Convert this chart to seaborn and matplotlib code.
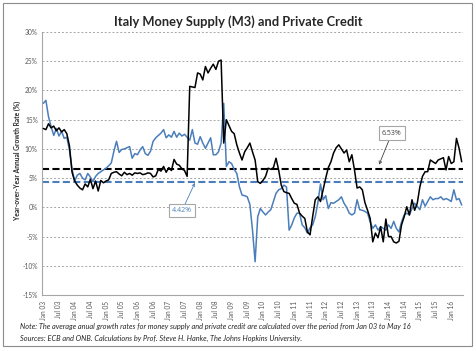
import numpy as np
import pandas as pd
import seaborn as sns
import matplotlib.pyplot as plt
from matplotlib.patches import Rectangle

# monthly growth rates, Jan 03 .. May 16
m3 = [13.5, 13.3, 14.3, 13.6, 13.9, 13.1, 13.6, 12.9, 13.3, 12.6,
      10.5, 6.0, 4.5, 3.8, 3.3, 3.0, 4.0, 3.5, 4.8, 3.2,
      4.5, 2.8, 4.6, 4.2, 4.5, 4.7, 5.8, 6.0, 6.1, 5.7,
      5.4, 6.0, 5.6, 5.8, 5.5, 5.9, 5.8, 5.9, 5.6, 5.7,
      5.9, 5.8, 5.2, 5.4, 6.5, 6.2, 7.0, 6.0, 6.8, 6.3,
      8.2, 7.4, 7.2, 6.6, 6.3, 5.3, 20.7, 20.6, 20.5, 23.0,
      22.8, 21.8, 24.1, 23.0, 23.8, 24.5, 23.6, 25.0, 25.2, 11.0,
      15.0, 14.0, 13.0, 12.6, 10.7, 9.3, 8.1, 9.5, 10.2, 11.0,
      9.5, 8.1, 4.4, 4.1, 4.6, 5.3, 6.7, 6.5, 6.8, 8.4,
      6.4, 3.8, 2.7, 2.5, 2.4, 1.5, 0.7, 0.5, -1.0, -1.5,
      -1.9, -4.2, -4.7, -1.6, 1.3, 1.8, 1.0, 3.0, 5.0, 6.8,
      7.8, 9.3, 10.2, 10.7, 10.0, 9.3, 9.8, 7.8, 9.0, 6.4,
      3.3, 3.5, 3.0, 0.8, -0.5, -1.9, -5.9, -4.4, -5.2, -3.3,
      -5.9, -2.0, -5.0, -5.0, -5.9, -6.1, -5.8, -3.0, -1.6, 0.1,
      -1.3, 1.3, -0.5, 0.7, 3.5, 5.3, 6.1, 6.1, 8.1, 7.8,
      7.5, 8.1, 8.3, 8.5, 6.4, 8.7, 7.5, 7.8, 11.8, 10.1,
      7.8]
credit = [17.8, 18.3, 15.5, 13.8, 12.3, 13.5, 12.2, 13.0, 11.8, 12.0,
          9.8, 6.5, 4.5, 5.5, 5.8, 5.0, 4.7, 5.8, 5.2, 4.4,
          5.3, 5.8, 6.1, 6.4, 6.7, 7.1, 7.6, 9.6, 11.3, 9.4,
          9.9, 10.0, 10.2, 10.4, 8.4, 9.2, 9.0, 9.8, 10.4, 9.2,
          8.9, 9.6, 11.3, 11.9, 12.3, 12.7, 13.3, 11.9, 12.4, 12.0,
          13.0, 12.0, 12.7, 12.2, 12.5, 12.0, 11.5, 13.3, 11.0, 10.8,
          12.1, 11.0, 10.1, 11.0, 11.9, 9.0, 9.0, 9.5, 11.0, 17.8,
          7.0, 7.8, 7.5, 6.5, 5.8, 3.5, 2.1, 2.0, 1.8, 0.5,
          -3.9, -9.3, -1.6, -0.2, -0.8, -1.3, -0.8, -0.4, 1.0, 2.4,
          3.0, 3.2, 3.8, 3.5, -3.9, -3.0, -1.8, -1.0, -1.0, -3.0,
          -3.5, -4.4, -3.5, -3.0, -1.6, 0.8, 4.0, 1.3, 2.0, -0.2,
          0.8, 0.7, 1.0, 1.3, 1.8, 0.7, 0.0, -1.0, -1.3, -1.0,
          1.3, -0.4, -0.5, -0.7, -1.0, -2.5, -3.6, -3.0, -3.9, -3.3,
          -3.6, -3.9, -3.0, -3.6, -2.4, -3.6, -4.2, -2.5, -1.3, -1.0,
          -1.3, -0.2, 0.7, 0.2, -0.4, 1.3, 0.2, 1.0, 1.8, 1.3,
          1.5, 1.5, 1.8, 1.3, 1.5, 1.3, 1.0, 3.0, 1.3, 1.5,
          0.4]
m3_avg = 6.53
credit_avg = 4.42

months = pd.date_range("2003-01-01", "2016-05-01", freq="MS")
df = pd.DataFrame({"i": np.arange(len(months)), "m3": m3, "credit": credit})

sns.set_style("white")
plt.rcParams['font.family'] = ['Lato', 'DejaVu Sans']

blue = '#4a7ebb'
grey = '#595959'

fig = plt.figure(figsize=(4.76, 3.51), dpi=100)
ax = fig.add_axes([0.0882, 0.1595, 0.8845, 0.7493])

ax.axhline(m3_avg, color='black', lw=1.5, ls=(0, (3.4, 1.6)), zorder=2)
ax.axhline(credit_avg, color=blue, lw=1.5, ls=(0, (3.4, 1.6)), zorder=2)
sns.lineplot(x='i', y='credit', data=df, ax=ax, color=blue, lw=1.1, zorder=3)
sns.lineplot(x='i', y='m3', data=df, ax=ax, color='black', lw=1.1, zorder=4)

ax.set_xlim(-0.5, len(months) - 0.5)
ax.set_ylim(-15, 30)
ax.set_yticks(range(-15, 31, 5))
ax.set_yticklabels([f'{v}%' for v in range(-15, 31, 5)], fontsize=4.8, color=grey)
ticks = list(range(0, len(months), 6))
ax.set_xticks(ticks)
ax.set_xticklabels(months[ticks].strftime('%b %y'), rotation=90, fontsize=4.8, color=grey)
ax.tick_params(axis='x', length=2.5, width=0.6, color='#a6a6a6', pad=1.5)
ax.tick_params(axis='y', length=0, pad=3)
ax.set_xlabel('')
ax.set_ylabel('')

ax.grid(axis='y', color='#a6a6a6', ls=(0, (2, 2)), lw=0.7)
for s in ['top', 'right']:
    ax.spines[s].set_visible(False)
for s in ['left', 'bottom']:
    ax.spines[s].set_color('#a6a6a6')
    ax.spines[s].set_linewidth(0.8)

box = dict(boxstyle='square,pad=0.45', fc='white', ec='#a6a6a6', lw=0.8)
ax.annotate(f'{m3_avg:.2f}%', xy=(128.4, 7.3), xytext=(133.3, 12.7),
            ha='center', va='center', fontsize=5, color='#404040', family='Open Sans', bbox=box,
            arrowprops=dict(arrowstyle='->', color='#404040', lw=0.6, shrinkA=0, shrinkB=0))
ax.annotate(f'{credit_avg:.2f}%', xy=(58.0, 4.2), xytext=(53.0, -0.6),
            ha='center', va='center', fontsize=5, color=blue, family='Open Sans', bbox=box,
            arrowprops=dict(arrowstyle='->', color=blue, lw=0.6, shrinkA=0, shrinkB=0))

fig.text(0.5, 0.937, 'Italy Money Supply (M3) and Private Credit',
         ha='center', va='center', fontsize=9.3, fontweight='bold')
fig.text(17 / 476, 1 - 160 / 351, 'Year-over-Year Annual Growth Rate (%)',
         rotation=90, ha='center', va='center', fontsize=4.8, fontweight='bold')
fig.text(20 / 476, 1 - 327 / 351,
         'Note: The average anual growth rates for money supply and private credit are calculated over the period from Jan 03 to May 16',
         ha='left', va='center', fontsize=5.3, style='italic', color='#262626')
fig.text(20 / 476, 1 - 338 / 351,
         'Sources: ECB and ONB. Calculations by Prof. Steve H. Hanke, The Johns Hopkins University.',
         ha='left', va='center', fontsize=5.3, style='italic', color='#262626')

fig.patches.append(Rectangle((3 / 476, 5 / 351), 469 / 476, 343 / 351, transform=fig.transFigure,
                             fill=False, ec='#8c8c8c', lw=0.8))

fig.savefig('out.png', dpi=100)
